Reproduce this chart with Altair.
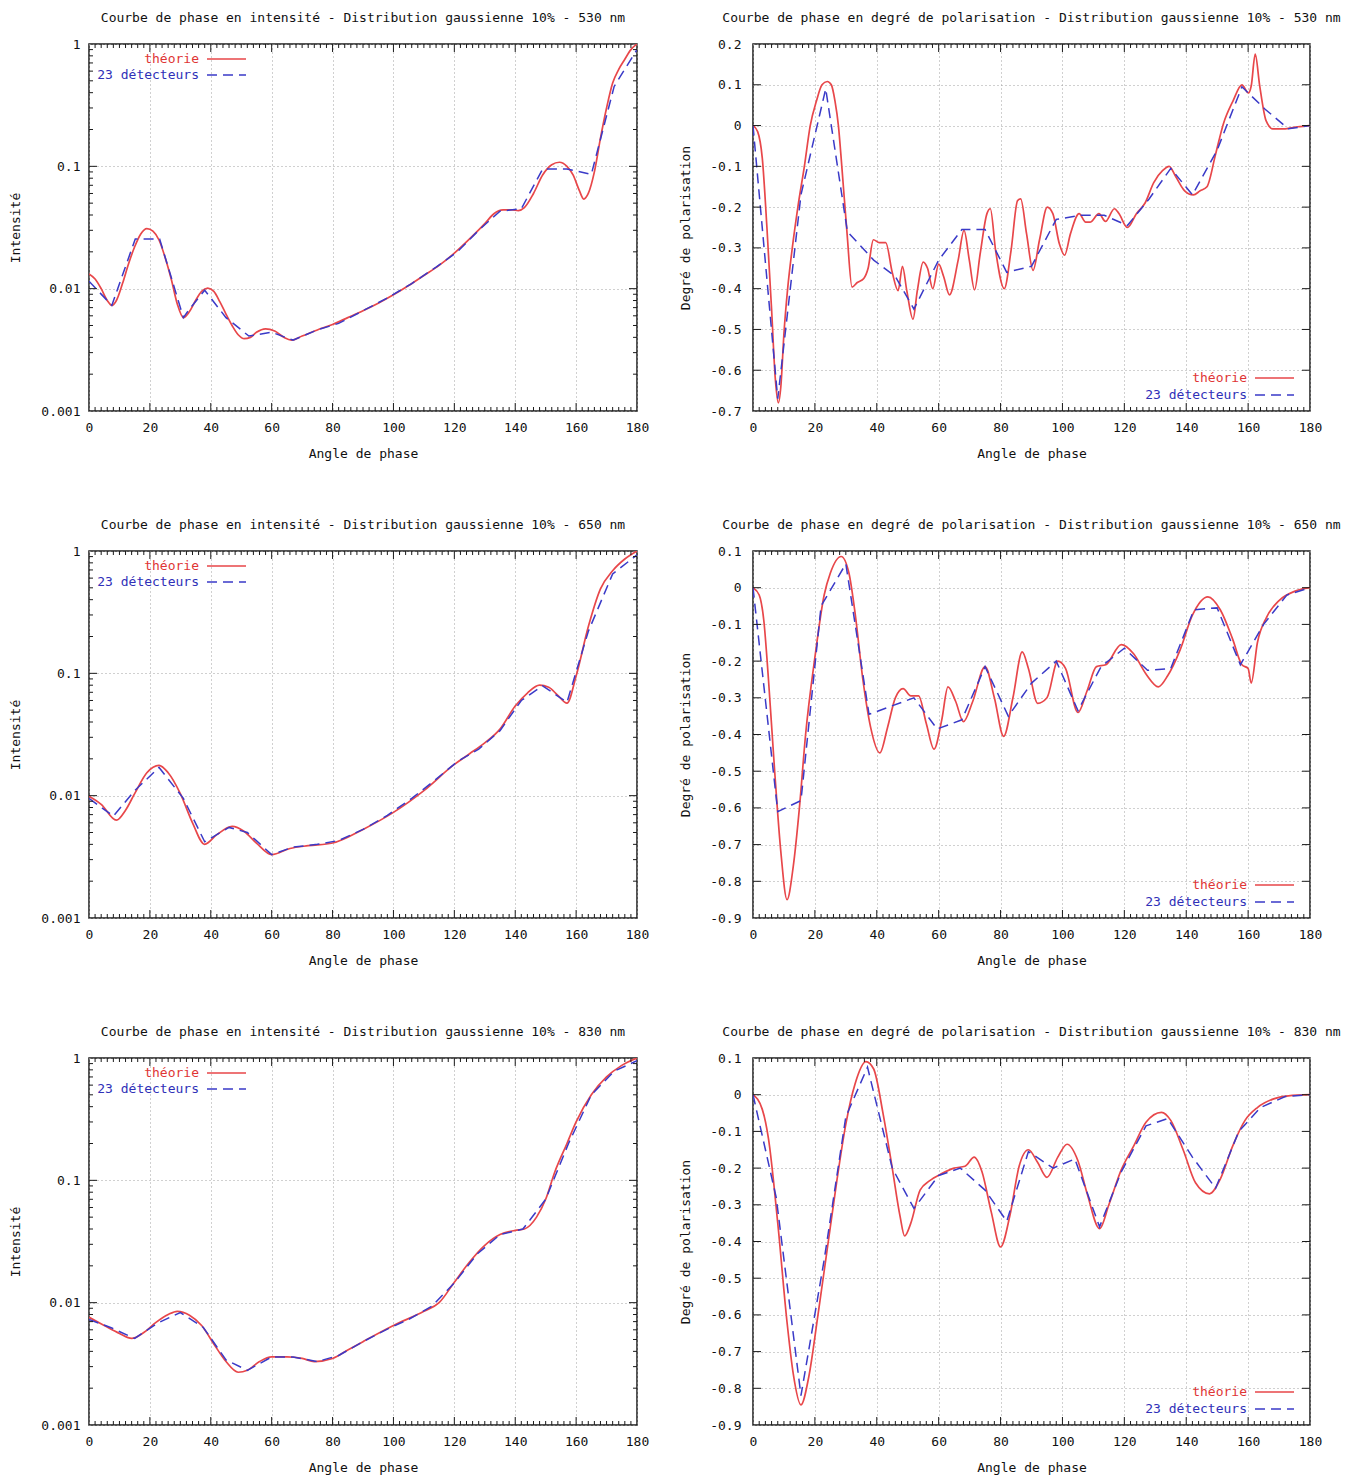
import altair as alt
import pandas as pd

FONT = "DejaVu Sans Mono"
RED = "#e8474a"
BLUE = "#3a3ac8"
RED_TXT = "#e03535"
BLUE_TXT = "#3030b8"
BORDER = "#1a1a1a"

TITLES = [
    "Courbe de phase en intensité - Distribution gaussienne 10% - 530 nm",
    "Courbe de phase en degré de polarisation - Distribution gaussienne 10% - 530 nm",
    "Courbe de phase en intensité - Distribution gaussienne 10% - 650 nm",
    "Courbe de phase en degré de polarisation - Distribution gaussienne 10% - 650 nm",
    "Courbe de phase en intensité - Distribution gaussienne 10% - 830 nm",
    "Courbe de phase en degré de polarisation - Distribution gaussienne 10% - 830 nm",
]
LEGEND_LABELS = ["théorie", "23 détecteurs"]
X_TITLE = "Angle de phase"
Y_TITLE_INT = "Intensité"
Y_TITLE_POL = "Degré de polarisation"

X_TICKS = [0, 20, 40, 60, 80, 100, 120, 140, 160, 180]
X_MINOR = [a for a in range(0, 181, 2) if a % 20 != 0]
INT_TICKS = [0.001, 0.01, 0.1, 1]
INT_MINOR = [m * d for d in (0.001, 0.01, 0.1) for m in range(2, 10)]
POL_TICKS_530 = [-0.7, -0.6, -0.5, -0.4, -0.3, -0.2, -0.1, 0, 0.1, 0.2]
POL_TICKS_650 = [-0.9, -0.8, -0.7, -0.6, -0.5, -0.4, -0.3, -0.2, -0.1, 0, 0.1]

# ---------------- intensity 530 nm ----------------
I530_THEORY = [
    (0, 0.0132), (2, 0.0120), (4, 0.0100), (6, 0.0080), (7.5, 0.0073), (9, 0.0080),
    (11, 0.0110), (13, 0.0160), (15, 0.0220), (17, 0.0280), (19, 0.0310), (21, 0.0295),
    (23, 0.0250), (25, 0.0180), (27, 0.0120), (29, 0.0075), (31, 0.0058), (33, 0.0065),
    (35, 0.0080), (37, 0.0095), (39, 0.0101), (41, 0.0095), (43, 0.0078), (45, 0.0062),
    (47, 0.0050), (49, 0.0042), (51, 0.0039), (53, 0.0040), (55, 0.0044), (58, 0.0047),
    (61, 0.0045), (64, 0.0040), (66.5, 0.0038), (70, 0.0041), (75, 0.0046), (80, 0.0051),
    (85, 0.0058), (90, 0.0066), (95, 0.0076), (100, 0.0089), (105, 0.0106), (110, 0.0128),
    (115, 0.0155), (120, 0.0195), (125, 0.0255), (130, 0.0340), (133, 0.0410), (136, 0.0440),
    (139, 0.0440), (141, 0.0435), (143, 0.0460), (146, 0.0600), (149, 0.0850), (152, 0.1030),
    (154.5, 0.1080), (157, 0.1000), (159, 0.0850), (161, 0.0640), (162.5, 0.0540), (164, 0.0600),
    (166, 0.0900), (168, 0.1700), (170, 0.3000), (172, 0.4800), (174, 0.6200), (176, 0.7500),
    (178, 0.9000), (180, 1.0000),
]
I530_DET = [
    (0, 0.0115), (7.5, 0.0073), (15.2, 0.0255), (23.2, 0.0255), (31, 0.0058), (33, 0.0068),
    (38, 0.0097), (45, 0.0058), (52.5, 0.0041), (60, 0.0044), (67, 0.0038), (75, 0.0046),
    (82, 0.0052), (90, 0.0066), (98, 0.0084), (106, 0.0110), (114, 0.0150), (121, 0.0200),
    (128, 0.0300), (135, 0.0430), (142, 0.0450), (149, 0.0950), (157, 0.0950), (165, 0.0860),
    (172.5, 0.4500), (180, 0.9000),
]

# ---------------- polarisation 530 nm ----------------
P530_THEORY = [
    (0, 0), (1.5, -0.015), (3, -0.08), (4.5, -0.25), (6, -0.45), (7.2, -0.62), (8.2, -0.68),
    (9, -0.64), (10, -0.51), (11.2, -0.4), (12.7, -0.3), (14.5, -0.2), (16.6, -0.1), (18.5, 0.0),
    (20.5, 0.06), (22.3, 0.1), (24, 0.108), (25.3, 0.1), (26.5, 0.06), (27.6, 0.0), (28.7, -0.1),
    (30.4, -0.265), (32, -0.396), (33.7, -0.385), (35.8, -0.375), (37.2, -0.35), (38.9, -0.28),
    (40.8, -0.287), (42.9, -0.287), (45, -0.36), (46.9, -0.405), (48.3, -0.345), (49.7, -0.405),
    (51.7, -0.475), (53.1, -0.405), (55, -0.335), (56.4, -0.35), (58.1, -0.4), (60, -0.34),
    (61.6, -0.37), (63.5, -0.415), (66.3, -0.33), (68.2, -0.257), (69.9, -0.33), (71.6, -0.403),
    (73.4, -0.315), (75.6, -0.216), (76.7, -0.204), (78.4, -0.306), (81.2, -0.4), (83.4, -0.306),
    (85.5, -0.184), (86.5, -0.18), (88.4, -0.265), (90.5, -0.355), (92.6, -0.28), (95.1, -0.2),
    (96.9, -0.216), (99, -0.29), (100.7, -0.318), (102.6, -0.265), (105.4, -0.216), (107.5, -0.237),
    (108.9, -0.237), (111.8, -0.216), (113.9, -0.235), (116.8, -0.204), (118.2, -0.215), (121, -0.25),
    (123.9, -0.216), (126.7, -0.19), (129.5, -0.14), (132.4, -0.11), (134.5, -0.1), (136.6, -0.125),
    (139.5, -0.16), (142.3, -0.17), (144.5, -0.16), (146.7, -0.15), (149.5, -0.07), (152, 0.004),
    (155.1, 0.06), (158, 0.1), (160.1, 0.08), (161, 0.097), (162.3, 0.175), (163.7, 0.1),
    (165.8, 0.012), (168, -0.008), (172, -0.008), (176, -0.003), (180, 0),
]
P530_DET = [
    (0, 0), (8, -0.67), (15.5, -0.17), (23.5, 0.09), (30.5, -0.26), (39, -0.33), (46, -0.37),
    (52, -0.45), (60, -0.33), (67.5, -0.255), (75, -0.255), (82, -0.36), (90, -0.345),
    (98, -0.23), (106, -0.22), (113.5, -0.22), (121, -0.245), (128, -0.18), (135, -0.105),
    (142, -0.17), (150, -0.06), (158, 0.095), (165.5, 0.04), (173, -0.008), (180, 0),
]

# ---------------- intensity 650 nm ----------------
I650_THEORY = [
    (0, 0.0099), (4, 0.0085), (9, 0.0063), (12, 0.0076), (15, 0.0104), (19, 0.0154),
    (23, 0.0177), (26, 0.0154), (30, 0.0104), (34, 0.0060), (38, 0.0040), (42, 0.0048),
    (47, 0.0056), (51, 0.0051), (55, 0.0041), (60, 0.0033), (66, 0.0037), (72, 0.0039),
    (80, 0.0041), (90, 0.0053), (100, 0.0073), (110, 0.0110), (120, 0.0180), (125, 0.0220),
    (130, 0.0270), (135, 0.0350), (140, 0.0540), (144, 0.0690), (148, 0.0800), (151, 0.0770),
    (154, 0.0660), (157, 0.0570), (160, 0.0950), (164, 0.2400), (168, 0.4900), (172, 0.6900),
    (176, 0.8600), (180, 1.0000),
]
I650_DET = [
    (0, 0.0095), (8, 0.0068), (15, 0.0110), (23, 0.0170), (31, 0.0095), (38, 0.0042),
    (46, 0.0055), (52, 0.0050), (60, 0.0033), (67, 0.0038), (75, 0.0040), (82, 0.0043),
    (90, 0.0053), (98, 0.0069), (106, 0.0095), (113, 0.0130), (121, 0.0190), (128, 0.0240),
    (135, 0.0340), (142, 0.0600), (149, 0.0790), (157, 0.0580), (164, 0.2200), (172, 0.6500),
    (180, 0.9300),
]

# ---------------- polarisation 650 nm ----------------
P650_THEORY = [
    (0, 0), (2, -0.02), (3.5, -0.09), (5, -0.25), (7, -0.5), (9, -0.72), (11, -0.85),
    (13, -0.76), (15, -0.6), (17, -0.4), (20, -0.19), (23, -0.02), (25, 0.04), (28.5, 0.085),
    (31, 0.04), (33, -0.07), (35.5, -0.25), (38, -0.38), (41, -0.45), (43.5, -0.38), (46, -0.3),
    (48.5, -0.275), (51, -0.295), (53.5, -0.295), (56, -0.37), (58.5, -0.44), (61, -0.36),
    (63, -0.27), (65.5, -0.31), (68, -0.365), (71, -0.31), (75, -0.215), (78, -0.3), (81, -0.405),
    (84, -0.3), (87, -0.175), (89, -0.22), (92, -0.315), (95, -0.3), (98.5, -0.2), (101, -0.22),
    (105, -0.34), (108, -0.28), (111, -0.215), (114, -0.21), (119, -0.155), (123, -0.18),
    (127, -0.235), (131, -0.27), (134, -0.24), (138, -0.17), (142, -0.075), (147, -0.025),
    (151, -0.06), (155, -0.14), (158, -0.21), (160, -0.22), (161, -0.26), (163, -0.15),
    (166, -0.08), (170, -0.035), (175, -0.01), (180, 0),
]
P650_DET = [
    (0, 0), (8, -0.61), (15.5, -0.58), (22, -0.05), (30, 0.065), (37.5, -0.345), (52, -0.3),
    (59.5, -0.385), (67.5, -0.36), (75, -0.215), (82.5, -0.35), (90, -0.26), (98, -0.2),
    (105, -0.335), (112.5, -0.215), (120, -0.165), (127.5, -0.225), (135, -0.22), (142.5, -0.06),
    (150, -0.055), (157.5, -0.21), (165, -0.1), (172.5, -0.02), (180, 0),
]

# ---------------- intensity 830 nm ----------------
I830_THEORY = [
    (0, 0.0076), (5, 0.0065), (10, 0.0056), (14, 0.0051), (18, 0.0057), (22, 0.0069),
    (26, 0.0080), (29, 0.0085), (33, 0.0079), (37, 0.0065), (41, 0.0046), (45, 0.0033),
    (49, 0.0027), (52, 0.0028), (56, 0.0033), (60, 0.0036), (65, 0.0036), (70, 0.0035),
    (74, 0.0033), (80, 0.0035), (85, 0.0041), (90, 0.0048), (100, 0.0065), (110, 0.0085),
    (115, 0.0100), (120, 0.0147), (125, 0.0215), (130, 0.0294), (135, 0.0360), (140, 0.0390),
    (143, 0.0400), (147, 0.0500), (150, 0.0700), (153, 0.1170), (157, 0.2000), (160, 0.3000),
    (165, 0.5000), (170, 0.7000), (175, 0.8700), (180, 1.0000),
]
I830_DET = [
    (0, 0.0073), (7.5, 0.0062), (15, 0.0051), (22.5, 0.0068), (30, 0.0083), (37.5, 0.0063),
    (45, 0.0034), (52, 0.0028), (60, 0.0036), (67, 0.0036), (75, 0.0033), (82, 0.0037),
    (90, 0.0048), (97.5, 0.0060), (105, 0.0073), (112.5, 0.0093), (120, 0.0145), (127.5, 0.0250),
    (135, 0.0360), (142.5, 0.0400), (145, 0.0480), (150, 0.0700), (157.5, 0.2000), (165, 0.5000),
    (172.5, 0.7800), (180, 0.9500),
]

# ---------------- polarisation 830 nm ----------------
P830_THEORY = [
    (0, 0), (3, -0.04), (5, -0.12), (8, -0.35), (11, -0.62), (13, -0.76), (15.5, -0.845),
    (18, -0.77), (21, -0.6), (24, -0.42), (27, -0.24), (30, -0.08), (33, 0.03), (36.5, 0.09),
    (39, 0.07), (42, -0.05), (45, -0.2), (47.5, -0.33), (49, -0.385), (51, -0.35), (54, -0.26),
    (57, -0.235), (61, -0.215), (65, -0.2), (68.5, -0.195), (71.5, -0.17), (74, -0.21),
    (77, -0.32), (80, -0.415), (83, -0.33), (86, -0.195), (89, -0.15), (92, -0.185), (95, -0.225),
    (98.5, -0.17), (101.5, -0.135), (105, -0.18), (108, -0.27), (112, -0.365), (115, -0.3),
    (119, -0.205), (123, -0.14), (127, -0.075), (132, -0.048), (135, -0.07), (139, -0.15),
    (143, -0.24), (147.5, -0.27), (151, -0.23), (155, -0.14), (159, -0.07), (163, -0.035),
    (168, -0.012), (173, -0.003), (180, 0),
]
P830_DET = [
    (0, 0), (7.5, -0.28), (15.5, -0.82), (23, -0.45), (30, -0.06), (37, 0.075), (45, -0.2),
    (52, -0.31), (60, -0.22), (67, -0.2), (75, -0.26), (82, -0.345), (89, -0.155), (97, -0.2),
    (104, -0.175), (112, -0.36), (119, -0.21), (127, -0.085), (134, -0.065), (142, -0.17),
    (149.5, -0.255), (157, -0.1), (164, -0.035), (172, -0.005), (180, 0),
]

H = 367
W_LEFT = 548
W_RIGHT = 557


def pts(pairs):
    return pd.DataFrame({"angle": [p[0] for p in pairs], "value": [p[1] for p in pairs]})


def panel(title, theory, det, kind, W, pol_ticks=None):
    xs = alt.Scale(domain=[0, 180], nice=False, zero=False)
    xaxis = alt.Axis(values=X_TICKS, title=X_TITLE, grid=True, ticks=False, domain=False,
                     labelPadding=10, titlePadding=13, labelFlush=False)
    if kind == "int":
        ys = alt.Scale(type="log", domain=[0.001, 1], nice=False)
        yaxis = alt.Axis(values=INT_TICKS, format="~g", title=Y_TITLE_INT, grid=True, ticks=False,
                         domain=False, labelPadding=9, titlePadding=18)
        y_major = INT_TICKS[1:-1]
        y_minor = INT_MINOR
    else:
        ys = alt.Scale(domain=[pol_ticks[0], pol_ticks[-1]], nice=False, zero=False)
        yaxis = alt.Axis(values=pol_ticks, title=Y_TITLE_POL, grid=True, ticks=False, domain=False,
                         labelPadding=12, titlePadding=17,
                         labelExpr="datum.value == 0 ? '0' : replace(format(datum.value, '.1f'), '\u2212', '-')")
        y_major = pol_ticks[1:-1]
        y_minor = []

    X = alt.X("angle:Q", scale=xs, axis=xaxis)
    Y = alt.Y("value:Q", scale=ys, axis=yaxis)

    layers = []
    layers.append(alt.Chart(pts(theory)).mark_line(color=RED, strokeWidth=1.7, interpolate="monotone",
                                                   clip=True).encode(x=X, y=Y))
    layers.append(alt.Chart(pts(det)).mark_line(color=BLUE, strokeWidth=1.5, strokeDash=[10, 6],
                                                clip=True).encode(x=X, y=Y))

    # inward border ticks (gnuplot style)
    for vals, size in ((X_TICKS[1:-1], 8), (X_MINOR, 4)):
        d = pd.DataFrame({"angle": vals})
        layers.append(alt.Chart(d).mark_rule(color=BORDER, strokeWidth=1).encode(
            x=X, y=alt.value(H), y2=alt.value(H - size)))
        layers.append(alt.Chart(d).mark_rule(color=BORDER, strokeWidth=1).encode(
            x=X, y=alt.value(0), y2=alt.value(size)))
    for vals, size in ((y_major, 8), (y_minor, 4)):
        if not vals:
            continue
        d = pd.DataFrame({"value": vals})
        layers.append(alt.Chart(d).mark_rule(color=BORDER, strokeWidth=1).encode(
            y=Y, x=alt.value(0), x2=alt.value(size)))
        layers.append(alt.Chart(d).mark_rule(color=BORDER, strokeWidth=1).encode(
            y=Y, x=alt.value(W), x2=alt.value(W - size)))

    # legend in gnuplot style (text then sample line)
    if kind == "int":
        lx, ly = 110, [15, 31]
    else:
        lx, ly = W - 63, [H - 33, H - 16]
    for label, tcol, lcol, dash, yy in ((LEGEND_LABELS[0], RED_TXT, RED, [1, 0], ly[0]),
                                         (LEGEND_LABELS[1], BLUE_TXT, BLUE, [10, 6], ly[1])):
        d = pd.DataFrame({"label": [label]})
        layers.append(alt.Chart(d).mark_text(align="right", baseline="middle", font=FONT, fontSize=13,
                                             color=tcol).encode(
            x=alt.value(lx), y=alt.value(yy), text="label:N"))
        layers.append(alt.Chart(d).mark_rule(color=lcol, strokeWidth=1.7, strokeDash=dash).encode(
            x=alt.value(lx + 8), x2=alt.value(lx + 47), y=alt.value(yy)))

    return alt.layer(*layers).properties(
        width=W, height=H,
        title=alt.TitleParams(title, font=FONT, fontSize=13, fontWeight="normal", color="#111", offset=13),
    )


panels = [
    panel(TITLES[0], I530_THEORY, I530_DET, "int", W_LEFT),
    panel(TITLES[1], P530_THEORY, P530_DET, "pol", W_RIGHT, POL_TICKS_530),
    panel(TITLES[2], I650_THEORY, I650_DET, "int", W_LEFT),
    panel(TITLES[3], P650_THEORY, P650_DET, "pol", W_RIGHT, POL_TICKS_650),
    panel(TITLES[4], I830_THEORY, I830_DET, "int", W_LEFT),
    panel(TITLES[5], P830_THEORY, P830_DET, "pol", W_RIGHT, POL_TICKS_650),
]

chart = alt.concat(*panels, columns=2, spacing={"row": 140, "column": 116}, bounds="flush").properties(
    padding={"left": 1, "top": 3, "right": 0, "bottom": 0}
).configure_view(
    stroke=BORDER, strokeWidth=1.5
).configure_axis(
    labelFont=FONT, titleFont=FONT, labelFontSize=13, titleFontSize=13, labelColor="#111",
    titleColor="#111", titleFontWeight="normal", gridColor="#a0a0a0", gridDash=[1, 3], gridWidth=1,
    gridOpacity=1
)

chart.save("out.html", embed_options={"renderer": "svg", "actions": False})
